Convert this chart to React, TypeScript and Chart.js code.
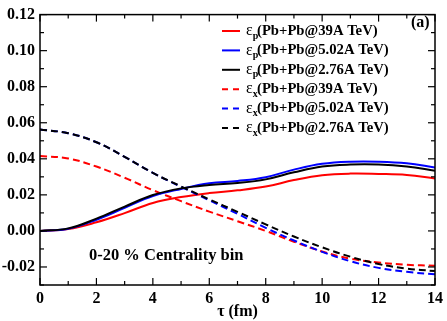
import React, { useEffect, useRef } from "react";
import { Chart, registerables } from "chart.js";

Chart.register(...registerables);

const tau = [0, 1, 2, 3, 4, 5, 6, 7, 8, 9, 10, 11, 12, 13, 14];

const epsP39 = [0, 0.001, 0.0048, 0.0099, 0.0155, 0.0188, 0.021, 0.0225, 0.0246, 0.0282, 0.0309, 0.0318, 0.0316, 0.031, 0.0291];
const epsP502 = [0, 0.0012, 0.0062, 0.0128, 0.0193, 0.0233, 0.0264, 0.0277, 0.0298, 0.034, 0.0372, 0.0384, 0.0384, 0.0375, 0.0352];
const epsP276 = [0, 0.0014, 0.0068, 0.0135, 0.0199, 0.0236, 0.0255, 0.0266, 0.0286, 0.0325, 0.0357, 0.0368, 0.0368, 0.0357, 0.0334];
const epsX39 = [0.0415, 0.0402, 0.0357, 0.0295, 0.0226, 0.0165, 0.0107, 0.0054, 0, -0.006, -0.0114, -0.0154, -0.0175, -0.0188, -0.0193];
const epsX502 = [0.0563, 0.0542, 0.0492, 0.0411, 0.0322, 0.0245, 0.017, 0.0095, 0.0017, -0.0053, -0.0116, -0.0168, -0.0205, -0.0227, -0.0241];
const epsX276 = [0.0563, 0.0542, 0.0492, 0.0411, 0.0322, 0.0247, 0.0175, 0.0106, 0.0036, -0.0031, -0.0091, -0.0143, -0.0184, -0.0209, -0.0223];

const seriesSymbols = ["p", "p", "p", "x", "x", "x"];
const seriesNames = [
  "(Pb+Pb@39A TeV)",
  "(Pb+Pb@5.02A TeV)",
  "(Pb+Pb@2.76A TeV)",
  "(Pb+Pb@39A TeV)",
  "(Pb+Pb@5.02A TeV)",
  "(Pb+Pb@2.76A TeV)",
];
const seriesColors = ["#ff0000", "#0000ff", "#000000", "#ff0000", "#0000ff", "#000000"];
const seriesDashed = [false, false, false, true, true, true];
const seriesLayer = [2, 1, 0, 2, 1, 0];
const seriesData = [epsP39, epsP502, epsP276, epsX39, epsX502, epsX276];

const xTicks = [0, 2, 4, 6, 8, 10, 12, 14];
const yTicks = [-0.02, 0, 0.02, 0.04, 0.06, 0.08, 0.1, 0.12];
const xMinorTicks = [1, 3, 5, 7, 9, 11, 13];
const yMinorTicks = [-0.03, -0.01, 0.01, 0.03, 0.05, 0.07, 0.09, 0.11];

const panelLabel = "(a)";
const noteText = "0-20 % Centrality bin";
const xTitle = "τ (fm)";

const SERIF = "'Liberation Serif', 'Times New Roman', serif";
const DASH = [7, 4];

const framePlugin = {
  id: "frameAndLegend",
  afterDraw(chart: any) {
    const { ctx, chartArea } = chart;
    const { left, right, top, bottom } = chartArea;
    const xs = chart.scales.x;
    const ys = chart.scales.y;
    ctx.save();
    ctx.strokeStyle = "#000";
    ctx.lineWidth = 1.5;
    ctx.setLineDash([]);
    ctx.strokeRect(left, top, right - left, bottom - top);
    ctx.lineWidth = 1.2;
    const tick = (x1: number, y1: number, x2: number, y2: number) => {
      ctx.beginPath();
      ctx.moveTo(x1, y1);
      ctx.lineTo(x2, y2);
      ctx.stroke();
    };
    xTicks.forEach((v) => {
      const x = xs.getPixelForValue(v);
      tick(x, bottom, x, bottom - 7);
      tick(x, top, x, top + 7);
    });
    xMinorTicks.forEach((v) => {
      const x = xs.getPixelForValue(v);
      tick(x, bottom, x, bottom - 4);
      tick(x, top, x, top + 4);
    });
    yTicks.forEach((v) => {
      const y = ys.getPixelForValue(v);
      tick(left, y, left + 7, y);
      tick(right, y, right - 7, y);
    });
    yMinorTicks.forEach((v) => {
      const y = ys.getPixelForValue(v);
      tick(left, y, left + 4, y);
      tick(right, y, right - 4, y);
    });

    // legend
    const lx0 = 222;
    const lx1 = 240;
    const y0 = 31;
    const dy = 19.4;
    ctx.textBaseline = "middle";
    ctx.textAlign = "left";
    seriesNames.forEach((name, i) => {
      const y = y0 + i * dy;
      ctx.strokeStyle = seriesColors[i];
      ctx.lineWidth = 2;
      ctx.setLineDash(seriesDashed[i] ? [6, 5] : []);
      ctx.beginPath();
      ctx.moveTo(lx0, y);
      ctx.lineTo(lx1, y);
      ctx.stroke();
      ctx.setLineDash([]);
      ctx.fillStyle = "#000";
      ctx.font = `16px ${SERIF}`;
      ctx.fillText("ε", 246, y);
      const ew = ctx.measureText("ε").width;
      ctx.font = `bold 10px ${SERIF}`;
      ctx.fillText(seriesSymbols[i], 246 + ew, y + 5);
      ctx.font = `bold 14.7px ${SERIF}`;
      ctx.fillText(name, 257, y);
    });

    ctx.fillStyle = "#000";
    ctx.font = `bold 16px ${SERIF}`;
    ctx.fillText(panelLabel, 411, 23);
    ctx.font = `bold 16.5px ${SERIF}`;
    ctx.fillText(noteText, 89, 256);
    ctx.restore();
  },
};

export default function App() {
  const ref = useRef<HTMLCanvasElement>(null);
  useEffect(() => {
    if (!ref.current) return;
    const datasets = seriesData.map((d, i) => ({
      label: seriesSymbols[i] + seriesNames[i],
      data: tau.map((t, j) => ({ x: t, y: d[j] })),
      borderColor: seriesColors[i],
      backgroundColor: seriesColors[i],
      borderWidth: 2,
      borderDash: seriesDashed[i] ? DASH : [],
      pointRadius: 0,
      tension: 0.4,
      fill: false,
      order: seriesLayer[i],
    }));
    const chart = new Chart(ref.current, {
      type: "line",
      data: { datasets },
      plugins: [framePlugin],
      options: {
        responsive: false,
        animation: false,
        layout: { padding: { top: 6, right: 7, left: 0, bottom: 0 } },
        plugins: { legend: { display: false }, tooltip: { enabled: false } },
        scales: {
          x: {
            type: "linear",
            min: 0,
            max: 14,
            afterBuildTicks: (s: any) => {
              s.ticks = xTicks.map((v) => ({ value: v }));
            },
            afterFit: (s: any) => {
              s.height = 36;
            },
            grid: { display: false, drawTicks: false },
            border: { display: false },
            ticks: {
              color: "#000",
              padding: 4,
              font: { family: SERIF, size: 16, weight: "bold" },
              callback: (v: any) => String(v),
            },
            title: {
              display: true,
              text: xTitle,
              color: "#000",
              font: { family: SERIF, size: 16, weight: "bold" },
              padding: { top: 0, bottom: 0 },
            },
          },
          y: {
            type: "linear",
            min: -0.03,
            max: 0.12,
            afterBuildTicks: (s: any) => {
              s.ticks = yTicks.map((v) => ({ value: v }));
            },
            afterFit: (s: any) => {
              s.width = 40;
            },
            grid: { display: false, drawTicks: false },
            border: { display: false },
            ticks: {
              color: "#000",
              padding: 5,
              font: { family: SERIF, size: 16, weight: "bold" },
              callback: (v: any) => Number(v).toFixed(2),
            },
          },
        },
      },
    });
    return () => chart.destroy();
  }, []);
  return (
    <div style={{ position: "fixed", left: 0, top: 0, width: 447, height: 321, background: "#fff" }}>
      <canvas ref={ref} width={447} height={321} style={{ display: "block" }} />
    </div>
  );
}
